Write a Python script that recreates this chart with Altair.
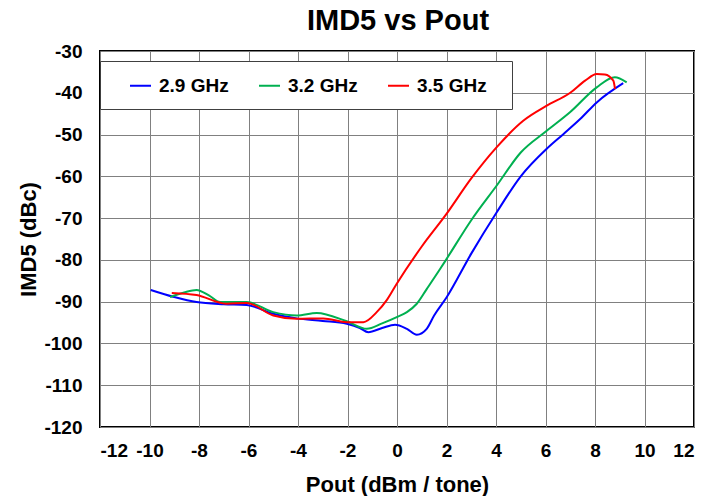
import altair as alt
import pandas as pd

series_names = ["2.9 GHz", "3.2 GHz", "3.5 GHz"]
series_colors = ["#0000FF", "#00B050", "#FF0000"]
chart_title = "IMD5 vs Pout"

x_29 = [-9.95, -9.0, -8.1, -7.0, -6.07, -5.0, -4.05, -3.0, -2.03, -1.5, -1.16, -0.6, -0.08, 0.4, 0.8, 1.2, 1.5, 2.0, 3.0, 4.03, 5.0, 6.05, 6.72, 7.4, 8.07, 9.14]
y_29 = [-87.2, -88.9, -90.1, -90.6, -90.8, -92.9, -94.0, -94.6, -95.3, -96.3, -97.3, -96.3, -95.5, -96.5, -97.9, -96.5, -93.3, -89.0, -78.5, -68.6, -60.0, -53.4, -49.9, -46.3, -42.3, -37.7]

x_32 = [-9.17, -8.6, -8.1, -7.6, -7.15, -6.07, -5.0, -4.05, -3.24, -2.03, -1.22, -0.6, -0.01, 0.4, 0.8, 1.2, 1.74, 2.0, 3.0, 4.03, 5.0, 6.05, 7.0, 8.07, 8.8, 9.28]
y_32 = [-88.9, -87.8, -87.2, -88.5, -90.1, -90.1, -92.5, -93.3, -92.7, -94.7, -96.5, -95.2, -93.7, -92.5, -90.5, -87.0, -82.2, -79.8, -70.5, -62.2, -54.3, -49.1, -44.6, -38.7, -36.3, -37.5]

x_35 = [-9.1, -8.1, -6.9, -6.07, -5.0, -4.05, -2.98, -2.03, -1.36, -0.82, -0.4, -0.01, 1.0, 2.0, 3.0, 4.03, 5.1, 6.05, 7.0, 7.6, 8.07, 8.4, 8.74, 8.81]
y_35 = [-87.9, -88.4, -90.5, -90.3, -93.3, -94.1, -94.0, -94.9, -94.9, -92.5, -89.5, -85.7, -76.8, -69.0, -60.5, -53.0, -46.7, -43.1, -40.0, -37.1, -35.5, -35.6, -37.1, -39.1]

x_ticks = list(range(-12, 13, 2))
y_ticks = list(range(-120, -29, 10))

rows = []
for name, xs, ys in zip(series_names, [x_29, x_32, x_35], [y_29, y_32, y_35]):
    for i, (xv, yv) in enumerate(zip(xs, ys)):
        rows.append({"series": name, "idx": i, "pout": xv, "imd5": yv})
df = pd.DataFrame(rows)

FONT = "Liberation Sans"
NB = "\u00a0"

lines = alt.Chart(df).mark_line(interpolate="monotone", strokeWidth=2).encode(
    x=alt.X("pout:Q", scale=alt.Scale(domain=[-12, 12], nice=False),
            axis=alt.Axis(values=x_ticks, title="Pout (dBm / tone)", labelPadding=14,
                          titlePadding=14, labelExpr="'' + datum.value")),
    y=alt.Y("imd5:Q", scale=alt.Scale(domain=[-120, -30], nice=False),
            axis=alt.Axis(values=y_ticks, title="IMD5 (dBc)", labelPadding=18,
                          titlePadding=3, labelExpr="'' + datum.value")),
    color=alt.Color("series:N", scale=alt.Scale(domain=series_names, range=series_colors),
                    legend=alt.Legend(title=NB, titleOrient="right", titlePadding=12,
                                      titleFontSize=19,
                                      orient="none", legendX=0, legendY=10,
                                      direction="horizontal", columns=3,
                                      symbolType="stroke", symbolSize=441, symbolStrokeWidth=2,
                                      symbolOffset=16, padding=13, labelOffset=7,
                                      columnPadding=13,
                                      labelExpr="datum.label + '" + NB * 2 + "'",
                                      fillColor="white", strokeColor="#404040")),
    order="idx:Q",
)

title_text = alt.Chart(pd.DataFrame({"t": [chart_title]})).mark_text(
    font=FONT, fontSize=29, fontWeight="bold", color="black",
    align="center", baseline="alphabetic",
).encode(
    text="t:N",
    x=alt.value(298),
    y=alt.value(-21),
)

chart = alt.layer(lines, title_text).properties(
    width=594, height=376,
    autosize=alt.AutoSizeParams(type="none"),
    padding={"left": 92, "top": 43, "right": 20, "bottom": 69},
).configure_view(
    stroke="black", strokeWidth=2
).configure_axis(
    grid=True, gridColor="#808080", gridWidth=1, gridOpacity=1,
    domain=False, ticks=False,
    labelFont=FONT, labelFontSize=19, labelFontWeight="bold", labelColor="black",
    titleFont=FONT, titleFontSize=22, titleFontWeight="bold", titleColor="black",
).configure_legend(
    labelFont=FONT, labelFontSize=19, labelFontWeight="bold", labelColor="black",
    titleFont=FONT, titleFontWeight="bold",
)

chart.save("out.html", embed_options={"renderer": "svg", "actions": False})
